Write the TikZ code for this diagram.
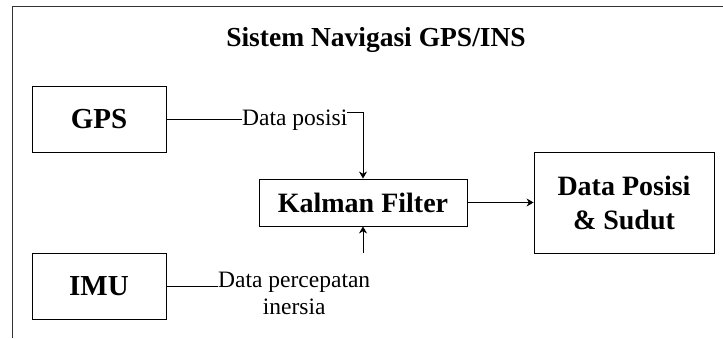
\documentclass[tikz,border=0pt]{standalone}
\usepackage{fontspec}
\setmainfont{Liberation Serif}
\usepackage{tikz}
\usetikzlibrary{arrows,arrows.meta,positioning,calc}

\begin{document}
\begin{tikzpicture}
[   x=1pt, y=1pt,
    blok/.style={draw=black, line width=0.9pt, inner sep=0pt, font=\fontsize{28}{35}\selectfont\bfseries, align=center},
    ket/.style={inner sep=0pt, font=\fontsize{23.5}{27}\selectfont, align=center}, ]

    \useasboundingbox (0,0) rectangle (723,338);
    \draw[line width=0.9pt, black!80] (723,332) -- (12,332) -- (12,0);

    \node[anchor=base, font=\fontsize{27.5}{33}\selectfont\bfseries] (judul) at (376,291) {Sistem Navigasi GPS/INS};

    \node[blok, minimum width=134pt, minimum height=66pt, font=\fontsize{29}{35}\selectfont\bfseries] (gps) at (99,219) {GPS};
    \node[blok, minimum width=134pt, minimum height=66pt, font=\fontsize{29}{35}\selectfont\bfseries] (imu) at (99,52) {IMU};
    \node[blok, minimum width=208pt, minimum height=47pt] (kalman) at (363,135.5) {Kalman Filter};
    \node[blok, minimum width=180pt, minimum height=101pt] (hasil) at (624,135.5) {Data Posisi\\[-1pt]\& Sudut};

    \node[ket, anchor=base west] (posisi) at (242,212) {Data posisi};
    \node[ket, anchor=west] (percepatan) at (218,45) {Data percepatan\\inersia};

    \coordinate (belok) at ($(kalman.north)+(0,66)$);
    \coordinate (bawah) at ($(kalman.south)+(0,-27)$);

    \draw[line width=0.8pt] (gps.east) -- (gps.east -| posisi.west);
    \draw[->,>={Stealth[length=7pt,width=8pt]}, line width=0.8pt] (posisi.east |- belok) -- (belok) -- (kalman.north);
    \draw[line width=0.8pt] (imu.east) -- (imu.east -| percepatan.west);
    \draw[->,>={Stealth[length=7pt,width=8pt]}, line width=0.8pt] (bawah) -- (kalman.south);
    \draw[->,>={Stealth[length=7pt,width=8pt]}, line width=0.8pt] (kalman.east) -- (hasil.west);

\end{tikzpicture}
\end{document}
